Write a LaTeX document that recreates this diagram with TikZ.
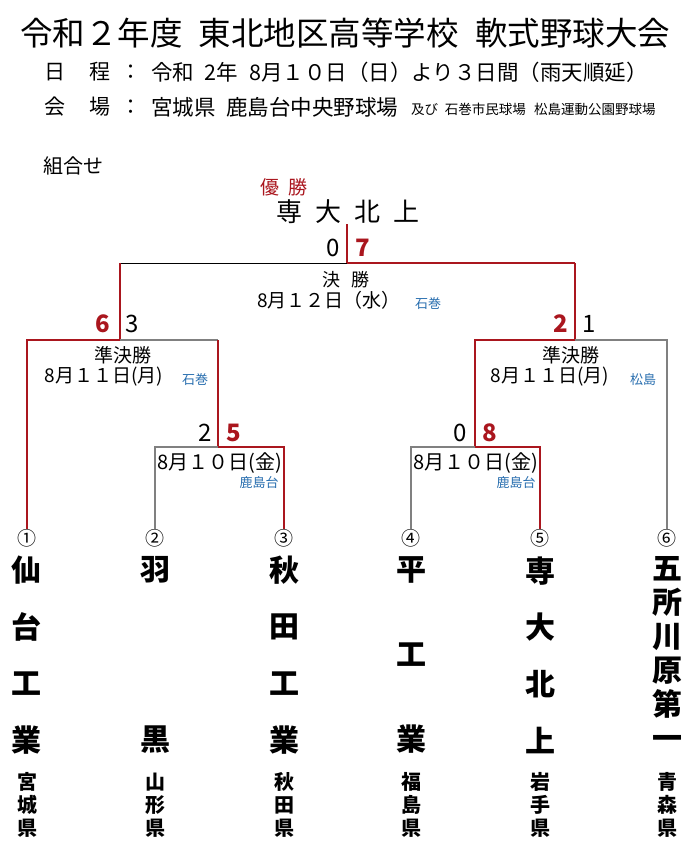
\documentclass[tikz,border=0pt]{standalone}
\usepackage{fontspec}
\setmainfont{Noto Sans CJK JP}
\usetikzlibrary{positioning}
\definecolor{wred}{RGB}{170,22,30}
\definecolor{vblue}{RGB}{40,110,175}
\definecolor{lgray}{RGB}{128,128,128}

\begin{document}
\begin{tikzpicture}[x=1pt,y=-1pt,
    win/.style={draw=wred, line width=1.7pt},
    lose/.style={draw=lgray, line width=1.1pt},
    fline/.style={draw=black, line width=0.8pt},
    score/.style={inner sep=0pt, font=\fontsize{24}{24}\selectfont},
    wscore/.style={score, text=wred, font=\fontsize{24}{24}\selectfont\bfseries},
    date/.style={inner sep=0pt, font=\fontsize{19}{19}\selectfont},
    venue/.style={inner sep=0pt, text=vblue, font=\fontsize{13}{13}\selectfont},
    num/.style={inner sep=0pt, font=\fontsize{19}{19}\selectfont},
    tchar/.style={inner sep=0pt, align=center, font=\fontsize{30}{56.7}\selectfont\bfseries},
    pchar/.style={inner sep=0pt, align=center, font=\fontsize{20}{23}\selectfont\bfseries}]

    \useasboundingbox[fill=white] (0,0) rectangle (700,858);

    \node[inner sep=0pt, font=\fontsize{32.5}{32.5}\selectfont] (title) at (345,33) {令和２年度\hspace{.5em}東北地区高等学校\hspace{.5em}軟式野球大会};
    \node[inner sep=0pt, font=\fontsize{21}{21}\selectfont] (k1) at (55,72) {日};
    \node[inner sep=0pt, font=\fontsize{21}{21}\selectfont] (k2) at (100,72) {程};
    \node[inner sep=0pt, font=\fontsize{21}{21}\selectfont] (k3) at (131,72) {：};
    \node[inner sep=0pt, anchor=west, font=\fontsize{21.5}{21.5}\selectfont] (sched) at (151,72) {令和\hspace{.5em}2年\hspace{.5em}8月１０日（日）より３日間（雨天順延）};
    \node[inner sep=0pt, font=\fontsize{21}{21}\selectfont] (k4) at (55,107) {会};
    \node[inner sep=0pt, font=\fontsize{21}{21}\selectfont] (k5) at (100,107) {場};
    \node[inner sep=0pt, font=\fontsize{21}{21}\selectfont] (k6) at (131,107) {：};
    \node[inner sep=0pt, anchor=west, font=\fontsize{21.5}{21.5}\selectfont] (place) at (151,107) {宮城県\hspace{.5em}鹿島台中央野球場};
    \node[inner sep=0pt, anchor=west, font=\fontsize{13.5}{13.5}\selectfont] (place2) at (411,109) {及び\hspace{.5em}石巻市民球場\hspace{.6em}松島運動公園野球場};

    \node[inner sep=0pt, font=\fontsize{20}{20}\selectfont] (kumi) at (73,166) {組合せ};
    \node[inner sep=0pt, text=wred, font=\fontsize{19}{19}\selectfont] (yusho) at (284,187) {優\hspace{.5em}勝};
    \node[inner sep=0pt, font=\fontsize{26}{26}\selectfont] (champ) at (348,212) {専\hspace{.5em}大\hspace{.5em}北\hspace{.5em}上};

    \coordinate (fin) at (347,263);
    \coordinate (sfA) at (120,340);
    \coordinate (sfB) at (575,340);
    \coordinate (qfA) at (218,447);
    \coordinate (qfB) at (475,447);

    \node[num] (n1) at (27,538) {①};
    \node[num] (n2) at (155,538) {②};
    \node[num] (n3) at (284,538) {③};
    \node[num] (n4) at (411,538) {④};
    \node[num] (n5) at (540,538) {⑤};
    \node[num] (n6) at (667,538) {⑥};

    \node[tchar] (t1) at (27,655) {仙\\台\\工\\業};
    \node[tchar] (t2) at (155,655) {羽\\[113.4pt]黒};
    \node[tchar] (t3) at (284,655) {秋\\田\\工\\業};
    \node[tchar] (t4) at (411,655) {平\\[28.3pt]工\\[28.3pt]業};
    \node[tchar] (t5) at (540,655) {専\\大\\北\\上};
    \node[tchar, font=\fontsize{30}{34}\selectfont\bfseries] (t6) at (667,653) {五\\所\\川\\原\\第\\一};

    \node[pchar] (p1) at (27,805) {宮\\城\\県};
    \node[pchar] (p2) at (155,805) {山\\形\\県};
    \node[pchar] (p3) at (284,805) {秋\\田\\県};
    \node[pchar] (p4) at (411,805) {福\\島\\県};
    \node[pchar] (p5) at (540,805) {岩\\手\\県};
    \node[pchar] (p6) at (667,805) {青\\森\\県};

    \draw[win] (fin |- champ.south) -- (fin);
    \draw[fline] (fin) -- (fin -| sfA);
    \draw[win] (fin) -- (fin -| sfB);
    \draw[win] (fin -| sfA) -- (sfA);
    \draw[win] (fin -| sfB) -- (sfB);

    \draw[win] (sfA) -- (sfA -| n1) -- (n1.north);
    \draw[lose] (sfA) -- (sfA -| qfA);
    \draw[win] (sfA -| qfA) -- (qfA);
    \draw[lose] (qfA) -- (qfA -| n2) -- (n2.north);
    \draw[win] (qfA) -- (qfA -| n3) -- (n3.north);

    \draw[win] (sfB) -- (sfB -| qfB) -- (qfB);
    \draw[lose] (sfB) -- (sfB -| n6) -- (n6.north);
    \draw[lose] (qfB) -- (qfB -| n4) -- (n4.north);
    \draw[win] (qfB) -- (qfB -| n5) -- (n5.north);

    \node[score, above left=6pt and 7pt of fin] (f0) {0};
    \node[wscore, above right=6pt and 8pt of fin] (f7) {7};
    \node[wscore, above left=7pt and 10pt of sfA] (a6) {6};
    \node[score, above right=7pt and 5pt of sfA] (a3) {3};
    \node[wscore, above left=7pt and 7pt of sfB] (b2) {2};
    \node[score, above right=7pt and 7pt of sfB] (b1) {1};
    \node[score, above left=5pt and 6pt of qfA] (c2) {2};
    \node[wscore, above right=5pt and 8pt of qfA] (c5) {5};
    \node[score, above left=5pt and 8pt of qfB] (d0) {0};
    \node[wscore, above right=5pt and 7pt of qfB] (d8) {8};

    \node[inner sep=0pt, font=\fontsize{18}{18}\selectfont] (fname) at (346,280) {決\hspace{.6em}勝};
    \node[date] (fdate) at (329,300) {8月１２日（水）};
    \node[venue] (fven) at (428,304) {石巻};
    \node[date] (aname) at (123,355) {準決勝};
    \node[date] (adate) at (104,377) {8月１１日(月)};
    \node[venue] (aven) at (195,380) {石巻};
    \node[date] (bname) at (571,355) {準決勝};
    \node[date] (bdate) at (550,377) {8月１１日(月)};
    \node[venue] (bven) at (643,380) {松島};
    \node[date, font=\fontsize{20}{20}\selectfont] (cdate) at (220,463) {8月１０日(金)};
    \node[venue] (cven) at (259,483) {鹿島台};
    \node[date, font=\fontsize{20}{20}\selectfont] (ddate) at (476,463) {8月１０日(金)};
    \node[venue] (dven) at (516,483) {鹿島台};
\end{tikzpicture}
\end{document}
